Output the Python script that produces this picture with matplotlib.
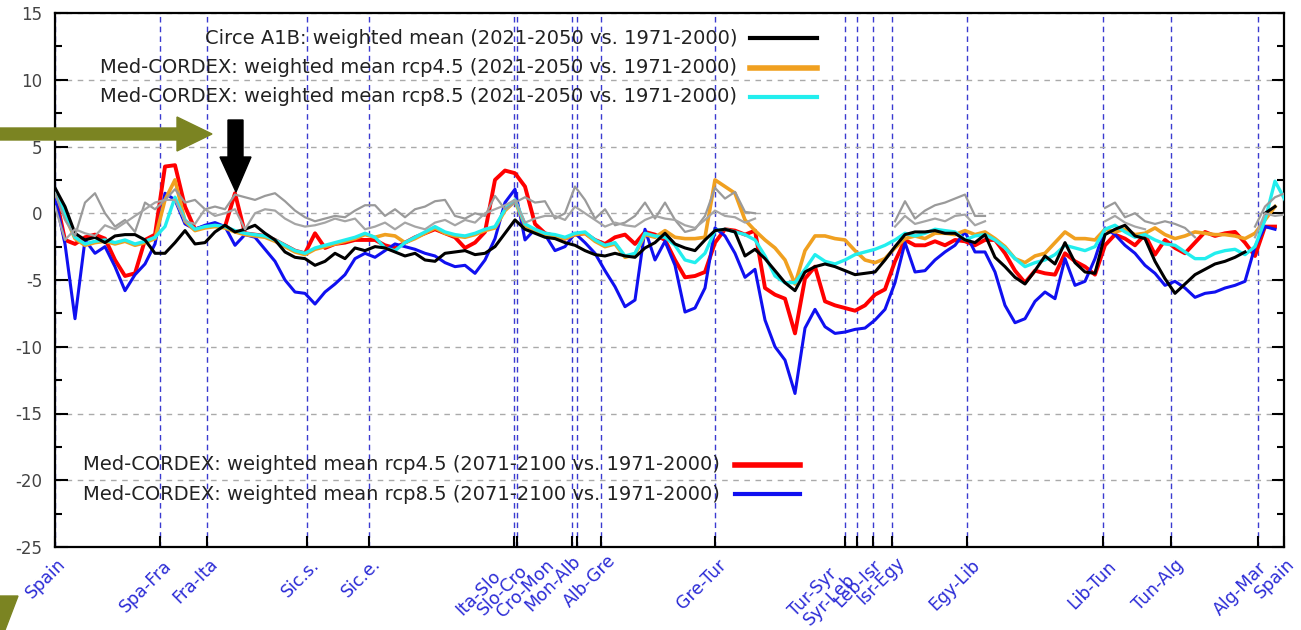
import numpy as np
import matplotlib
matplotlib.use("Agg")
import matplotlib.pyplot as plt
from matplotlib.patches import Polygon
from matplotlib.ticker import MultipleLocator

nan = np.nan

# position along the Mediterranean coastline (plot units), one sample every 10
coast_pos = list(range(0, 1231, 10))

boundary_pos = [0, 105, 152, 252, 314, 459, 462, 517, 522, 546, 660, 790, 802,
                818, 837, 912, 1048, 1116, 1203, 1229]
boundary_labels = ["Spain", "Spa-Fra", "Fra-Ita", "Sic.s.", "Sic.e.", "Ita-Slo",
                   "Slo-Cro", "Cro-Mon", "Mon-Alb", "Alb-Gre", "Gre-Tur", "Tur-Syr",
                   "Syr-Leb", "Leb-Isr", "Isr-Egy", "Egy-Lib", "Lib-Tun", "Tun-Alg",
                   "Alg-Mar", "Spain"]

# --- series ---
circe_a1b = [1.9, 0.5, -1.5, -2.0, -1.8, -2.2, -1.7, -1.6, -1.6, -2.0,
             -3.0, -3.0, -2.2, -1.3, -2.3, -2.2, -1.4, -0.9, -1.4, -1.2,
             -0.9, -1.5, -2.0, -2.9, -3.3, -3.4, -3.9, -3.6, -3.0, -3.4, -2.6,
             -2.8, -2.5, -2.6, -2.9, -3.2, -3.0, -3.5, -3.6, -3.0, -2.9,
             -2.8, -3.1, -3.0, -2.5, -1.5, -0.5, -1.2, -1.5, -1.8, -1.9,
             -2.2, -2.4, -2.8, -3.1, -3.2, -3.0, -3.2, -3.3, -2.6, -2.2,
             -1.5, -2.3, -2.6, -2.8, -2.0, -1.3, -1.2, -1.4, -3.2, -2.7,
             -3.4, -4.3, -5.2, -5.8, -4.4, -4.0, -3.8, -4.0, -4.3, -4.6,
             -4.5, -4.4, -3.5, -2.5, -1.6, -1.4, -1.4, -1.3, -1.5, -1.5,
             -2.0, -2.2, -1.6, -3.3, -4.0, -4.8, -5.3, -4.3, -3.2, -3.8,
             -2.2, -3.7, -4.4, -4.5, -1.6, -1.2, -0.9, -1.7, -1.9, -3.6,
             -4.9, -6.0, -5.3, -4.6, -4.2, -3.8, -3.6, -3.3, -2.9, nan,
             0.0, 0.5, nan]

rcp45_mid = [1.6, -0.2, -1.9, -2.4, -2.2, -2.1, -2.3, -2.1, -2.4, -2.2,
             -1.9, 1.0, 2.5, -0.6, -1.3, -1.1, -1.0, -1.1, -1.4, -1.6,
             -1.7, -1.8, -2.1, -2.5, -2.9, -3.1, -2.7, -2.5, -2.3, -2.1, -1.9,
             -1.6, -1.8, -1.6, -1.7, -2.2, -1.9, -1.5, -1.1, -1.5, -1.7,
             -1.8, -1.6, -1.3, -1.1, 0.2, 0.9, -0.9, -1.3, -1.6, -1.7,
             -1.9, -1.6, -1.5, -2.1, -2.5, -2.3, -3.3, -3.1, -1.6, -1.8,
             -1.3, -1.8, -1.9, -1.9, -1.8, 2.5, 2.0, 1.5, -0.5, -1.3,
             -2.0, -2.6, -3.5, -5.3, -2.8, -1.7, -1.7, -1.9, -2.0, -2.8,
             -3.5, -3.7, -3.4, -2.6, -1.9, -1.7, -1.9, -1.5, -1.5, -1.6,
             -1.3, -1.6, -1.4, -1.9, -2.5, -3.4, -3.7, -3.2, -3.0, -2.2,
             -1.4, -1.9, -1.9, -2.0, -1.2, -1.4, -1.2, -1.6, -1.5, -1.1,
             -1.6, -1.9, -1.7, -1.4, -1.5, -1.6, -1.6, -1.7, -1.9, -1.5,
             -0.5, 0.5, nan]

rcp85_mid = [1.8, 0.0, -1.8, -2.3, -2.1, -2.0, -2.2, -2.0, -2.3, -2.1,
             -1.8, -1.0, 1.2, -0.5, -1.2, -1.0, -0.9, -1.0, -1.3, -1.5,
             -1.6, -1.7, -2.0, -2.4, -2.8, -3.0, -2.6, -2.4, -2.2, -2.0, -1.8,
             -1.5, -1.8, -2.6, -2.8, -2.2, -1.8, -1.4, -1.0, -1.4, -1.6,
             -1.7, -1.5, -1.2, -1.0, 0.3, 1.0, -0.8, -1.2, -1.5, -1.6,
             -1.8, -1.5, -1.4, -2.0, -2.4, -2.2, -3.2, -3.0, -1.5, -1.7,
             -1.8, -2.4, -3.5, -3.7, -3.0, -1.3, -1.2, -1.4, -1.6, -2.0,
             -3.2, -4.7, -5.2, -5.2, -4.2, -3.1, -3.6, -3.8, -3.5, -3.1,
             -2.9, -2.7, -2.4, -2.0, -1.5, -1.7, -1.5, -1.2, -1.3, -1.4,
             -2.0, -1.7, -1.6, -2.0, -2.6, -3.4, -4.0, -3.7, -3.5, -3.1,
             -2.4, -2.6, -2.8, -2.5, -1.2, -0.9, -1.4, -1.8, -1.6, -2.0,
             -2.3, -2.4, -2.9, -3.4, -3.4, -3.0, -2.8, -2.7, -3.1, -2.5,
             -0.5, 2.4, 1.0]

rcp45_end = [1.5, -2.0, -2.3, -1.8, -1.6, -1.9, -3.5, -4.7, -4.5, -2.0,
             -1.6, 3.5, 3.6, 0.5, -1.2, -1.0, -0.9, -1.0, 1.5, -1.5,
             -1.6, -1.7, -2.0, -2.4, -2.8, -3.0, -1.5, -2.6, -2.3, -2.2, -2.0,
             -2.0, -2.0, -2.4, -2.6, -2.2, -1.8, -1.5, -1.2, -1.5, -1.8,
             -2.6, -2.2, -1.4, 2.5, 3.2, 3.0, 2.0, -0.8, -1.5, -1.7,
             -1.9, -1.6, -1.5, -2.0, -2.3, -1.8, -1.6, -2.3, -1.4, -1.6,
             -2.0, -3.5, -4.8, -4.7, -4.4, -2.2, -1.2, -1.3, -1.6, -1.3,
             -5.6, -6.1, -6.4, -9.0, -4.9, -4.0, -6.6, -6.9, -7.1, -7.3,
             -6.9, -6.1, -5.7, -3.6, -2.0, -2.4, -2.4, -2.1, -2.4, -2.0,
             -2.1, -2.4, -2.0, -2.0, -3.0, -4.3, -5.2, -4.3, -4.5, -4.6,
             -3.0, -3.6, -4.0, -4.6, -2.4, -1.6, -1.9, -2.4, -1.6, -3.1,
             -2.0, -2.6, -3.0, -2.2, -1.4, -1.7, -1.5, -1.4, -2.2, -3.2,
             -1.0, -1.0, nan]

rcp85_end = [1.2, -2.3, -7.9, -2.0, -3.0, -2.5, -4.0, -5.8, -4.6, -3.8,
             -2.3, 1.5, 1.0, -0.8, -1.2, -0.9, -0.7, -1.0, -2.4, -1.6,
             -1.8, -2.7, -3.6, -5.0, -5.9, -6.0, -6.8, -5.9, -5.3, -4.6, -3.4,
             -3.0, -3.3, -2.8, -2.3, -2.5, -2.7, -3.0, -3.2, -3.7, -4.0,
             -3.9, -4.5, -3.5, -1.9, 0.8, 1.8, -2.0, -1.2, -1.6, -2.8,
             -2.5, -1.5, -2.2, -3.0, -4.3, -5.5, -7.0, -6.5, -1.2, -3.5,
             -2.1, -3.9, -7.4, -7.1, -5.6, -1.1, -1.7, -3.0, -4.8, -4.2,
             -8.0, -10.0, -11.0, -13.5, -8.6, -7.2, -8.5, -9.0, -8.9, -8.7,
             -8.6, -8.0, -7.2, -5.2, -2.2, -4.4, -4.3, -3.5, -2.9, -2.4,
             -1.4, -2.9, -2.9, -4.4, -6.9, -8.2, -7.9, -6.6, -5.9, -6.4,
             -3.4, -5.4, -5.1, -3.4, -1.1, -1.6, -2.4, -3.0, -3.9, -4.5,
             -5.4, -5.1, -5.6, -6.3, -6.0, -5.9, -5.6, -5.4, -5.1, -2.5,
             -1.0, -1.2, nan]

gray_a = [1.5, -0.5, -1.7, 0.8, 1.5, 0.0, -1.0, -0.5, -1.4, 0.8,
          0.3, 1.0, 1.8, 0.8, 1.0, 0.3, 0.5, 0.3, 1.4, 1.2,
          1.0, 1.3, 1.5, 0.9, 0.2, -0.3, -0.6, -0.4, -0.2, -0.3, 0.2,
          0.6, 0.6, -0.2, 0.3, -0.3, 0.3, 0.5, 0.9, 1.0, -0.2,
          -0.4, 0.0, -0.2, 1.3, 0.3, 0.8, 1.2, 0.8, 0.9, -0.4,
          0.0, 2.0, 1.0, -0.4, 0.3, -0.9, -0.7, -0.2, 0.8, -0.4,
          0.8, -0.5, -1.4, -1.2, -0.2, 1.9, 1.1, 1.6, 0.1, 0.0,
          nan, nan, nan, nan, nan, nan, nan, nan, nan, nan,
          nan, nan, nan, -0.6, 0.9, -0.4, 0.2, 0.6, 0.8, 1.1,
          1.4, -0.2, -0.2, nan, nan, nan, nan, nan, nan, nan,
          nan, nan, nan, nan, 0.4, 0.8, -0.3, 0.0, -0.6, -0.8,
          -0.6, -0.8, -1.1, -1.8, nan, nan, nan, nan, nan, -1.0,
          0.5, 1.2, 1.5]

gray_b = [0.5, -2.0, -1.2, -1.5, -1.7, -0.9, -1.2, -0.7, -0.2, 0.3,
          0.8, 1.0, 1.0, -0.6, -0.8, 0.3, -0.2, 0.0, 0.3, -1.2,
          0.0, 0.3, 0.2, -0.4, -0.8, -1.0, -0.9, -0.7, -0.4, -0.6, -0.4,
          -1.2, -1.0, -0.7, -1.2, -0.7, -1.0, -1.2, -0.7, -0.5, -0.9,
          -0.5, -0.7, 0.0, 0.3, 0.6, 1.0, -0.7, -0.4, -0.2, -0.2,
          -0.5, 0.5, 0.0, -0.5, -1.0, -0.7, -0.9, -1.0, -0.5, -0.2,
          -0.4, -0.5, -0.9, -1.1, -0.5, 0.2, -0.2, -0.3, -0.7, -0.4,
          nan, nan, nan, nan, nan, nan, nan, nan, nan, nan,
          nan, nan, nan, -1.0, -0.2, -0.8, -0.6, -0.4, -0.6, -0.2,
          -0.1, -0.9, -0.6, nan, nan, nan, nan, nan, nan, nan,
          nan, nan, nan, nan, -0.6, -0.2, -0.7, -1.0, -1.2, nan,
          nan, nan, nan, nan, nan, nan, nan, nan, nan, -1.8,
          0.0, -0.2, -0.1]

labels_top = ["Circe A1B: weighted mean (2021-2050 vs. 1971-2000)",
              "Med-CORDEX: weighted mean rcp4.5 (2021-2050 vs. 1971-2000)",
              "Med-CORDEX: weighted mean rcp8.5 (2021-2050 vs. 1971-2000)"]
labels_bottom = ["Med-CORDEX: weighted mean rcp4.5 (2071-2100 vs. 1971-2000)",
                 "Med-CORDEX: weighted mean rcp8.5 (2071-2100 vs. 1971-2000)"]

# where each boundary name is written (x in plot units, drop below axis in px)
label_x = [2, 108, 154, 255, 316, 437, 464, 490, 516, 552, 662, 773, 791,
           817, 840, 916, 1052, 1120, 1203, 1231]
label_drop = [8, 10, 8, 9, 8, 20, 14, 9, 5, 4, 9, 18, 23, 9, 6, 9, 10, 9, 12, 8]

plt.rcParams["axes.unicode_minus"] = False

W, H = 1301, 630
fig = plt.figure(figsize=(W / 100, H / 100), dpi=100)
ax = fig.add_axes([55 / W, 1 - 547 / H, 1229 / W, 534 / H])

# draw order: red, blue, orange, cyan, black, greys on top
ax.plot(coast_pos, rcp45_end, color="#ff0000", lw=2.8, zorder=3)
ax.plot(coast_pos, rcp85_end, color="#1010f0", lw=2.2, zorder=3)
ax.plot(coast_pos, rcp45_mid, color="#f0a020", lw=2.6, zorder=4)
ax.plot(coast_pos, rcp85_mid, color="#22eeee", lw=2.4, zorder=4)
ax.plot(coast_pos, circe_a1b, color="#000000", lw=2.2, zorder=5)
ax.plot(coast_pos, gray_a, color="#9a9a9a", lw=1.6, zorder=6)
ax.plot(coast_pos, gray_b, color="#a5a5a5", lw=1.6, zorder=6)

ax.set_xlim(0, 1229)
ax.set_ylim(-25, 15)
ax.set_yticks(range(-25, 16, 5))
ax.yaxis.set_minor_locator(MultipleLocator(2.5))
ax.set_xticks(boundary_pos)
ax.set_xticklabels([])

ax.tick_params(axis="y", which="major", direction="in", length=9, width=1.5,
               left=True, right=True, labelsize=12, labelcolor="#444444", pad=9)
ax.tick_params(axis="y", which="minor", direction="in", length=5, width=1.5,
               left=True, right=True)
ax.tick_params(axis="x", direction="in", length=8, width=1.5)

for lab, lx, drop in zip(boundary_labels, label_x, label_drop):
    ax.annotate(lab, xy=(lx, 0), xycoords=("data", "axes fraction"),
                xytext=(0, -drop), textcoords="offset pixels",
                rotation=45, ha="right", va="top", rotation_mode="anchor",
                fontsize=12.5, color="#2b2bd6", annotation_clip=False)

ax.yaxis.grid(True, color="#aaaaaa", linestyle=(0, (4, 4)), linewidth=1)
ax.xaxis.grid(True, color="#3a3ad0", linestyle=(0, (4, 3)), linewidth=1)
ax.set_axisbelow(True)
for sp in ax.spines.values():
    sp.set_linewidth(1.6)

# legends drawn gnuplot style: right-aligned text followed by the line sample
for i, (lab, col, lw) in enumerate(zip(labels_top, ["#000000", "#f0a020", "#22eeee"], [3, 4, 3])):
    y = (547 - (38 + 29.5 * i)) / 534
    ax.text(0.555, y, lab, transform=ax.transAxes, ha="right", va="center",
            fontsize=14, color="#222222")
    ax.plot([0.5655, 0.620], [y, y], transform=ax.transAxes, color=col, lw=lw)
for i, (lab, col, lw) in enumerate(zip(labels_bottom, ["#ff0000", "#1010f0"], [4, 3])):
    y = (547 - (465 + 29 * i)) / 534
    ax.text(0.541, y, lab, transform=ax.transAxes, ha="right", va="center",
            fontsize=14, color="#222222")
    ax.plot([0.553, 0.606], [y, y], transform=ax.transAxes, color=col, lw=lw)


def px(points):
    return [(x / W, 1 - y / H) for x, y in points]


olive = "#7b8422"
fig.add_artist(Polygon(px([(0, 128), (177, 128), (177, 117), (212, 134),
                           (177, 151), (177, 140), (0, 140)]),
                       closed=True, transform=fig.transFigure, color=olive, zorder=10))
fig.add_artist(Polygon(px([(228, 120), (243, 120), (243, 157), (251, 157),
                           (236, 192), (220, 157), (228, 157)]),
                       closed=True, transform=fig.transFigure, color="black", zorder=10))
fig.add_artist(Polygon(px([(0, 596), (18, 596), (5, 630), (0, 630)]),
                       closed=True, transform=fig.transFigure, color=olive, zorder=10))

fig.savefig("out.png", dpi=100)
